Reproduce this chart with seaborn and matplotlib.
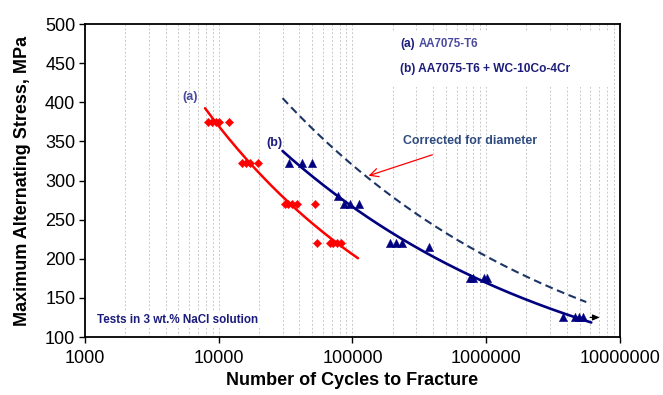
import numpy as np
import pandas as pd
import matplotlib
matplotlib.use("Agg")
import matplotlib.pyplot as plt
import seaborn as sns
from matplotlib.ticker import FixedLocator, FuncFormatter, LogLocator, NullFormatter
from matplotlib.patches import Rectangle

# ---------------- data ----------------
a_cycles = [8300, 8900, 9500, 10000, 12000,
            15000, 16000, 17000, 19500,
            31300, 33100, 35100, 38700, 52700,
            54300, 67900, 71900, 76200, 81600]
a_stress = [375, 375, 375, 375, 375,
            322, 322, 322, 322,
            270, 270, 270, 270, 270,
            220, 220, 220, 220, 220]

b_cycles = [33500, 41700, 49500,
            78300,
            86400, 95800, 112400,
            190700, 210400, 233400,
            373000,
            755000, 792000, 962000, 1019000,
            3770000, 4610000, 4960000, 5260000]
b_stress = [322, 322, 322,
            280,
            270, 270, 270,
            220, 220, 220,
            215,
            175, 175, 175, 175,
            125, 125, 125, 125]

a_fit_range = [7900, 110000]
b_fit_range = [30000, 6100000]
corr_range = [30000, 5600000]
corr_factor = 1.2
runout_cycles = [5700000, 7400000]
runout_stress = 125

x_ticks = [1000, 10000, 100000, 1000000, 10000000]
y_ticks = [100, 150, 200, 250, 300, 350, 400, 450, 500]

# ---------------- style ----------------
sns.set_theme(style="white")
plt.rcParams["font.family"] = ["Liberation Sans", "DejaVu Sans"]

RED = "#ff0000"
NAVY = "#000080"
DASH = "#1c3566"
TXT_NAVY = "#1c1c7c"
TXT_SLATE = "#4a4aa0"

fig = plt.figure(figsize=(6.63, 3.95), dpi=100)
ax = fig.add_axes([0.1282, 0.1468, 0.8069, 0.7924])


def power_fit(x, y, rng):
    coef = np.polyfit(np.log(x), np.log(y), 1)
    xs = np.geomspace(rng[0], rng[1], 200)
    return xs, np.exp(np.polyval(coef, np.log(xs))), coef


ax_x, ax_y, _ = power_fit(a_cycles, a_stress, a_fit_range)
bx_x, bx_y, b_coef = power_fit(b_cycles, b_stress, b_fit_range)
cx = np.geomspace(corr_range[0], corr_range[1], 200)
cy = corr_factor * np.exp(np.polyval(b_coef, np.log(cx)))

fits = pd.DataFrame({"x": ax_x, "y": ax_y})
sns.lineplot(data=fits, x="x", y="y", ax=ax, color=RED, lw=1.8,
             estimator=None, sort=False, zorder=2)
sns.lineplot(x=bx_x, y=bx_y, ax=ax, color=NAVY, lw=1.9,
             estimator=None, sort=False, zorder=2)
sns.lineplot(x=cx, y=cy, ax=ax, color=DASH, lw=1.5,
             linestyle=(0, (3.8, 2.2)), estimator=None, sort=False, zorder=2)

sns.scatterplot(x=a_cycles, y=a_stress, ax=ax, marker="D", s=18,
                color=RED, edgecolor=RED, linewidth=0.3, zorder=3)
sns.scatterplot(x=b_cycles, y=b_stress, ax=ax, marker="^", s=36,
                color=NAVY, edgecolor=NAVY, linewidth=0.3, zorder=3)

# run-out arrow
ax.annotate("", xy=(runout_cycles[1], runout_stress),
            xytext=(runout_cycles[0], runout_stress),
            arrowprops=dict(arrowstyle="-|>,head_length=0.35,head_width=0.15",
                            color="black", lw=0.8), zorder=4)

# ---------------- axes ----------------
ax.set_xscale("log")
ax.set_xlim(1000, 10000000)
ax.set_ylim(100, 500)
ax.xaxis.set_major_locator(FixedLocator(x_ticks))
ax.xaxis.set_major_formatter(FuncFormatter(lambda v, p: f"{int(round(v))}"))
ax.xaxis.set_minor_locator(LogLocator(base=10, subs=np.arange(2, 10)))
ax.xaxis.set_minor_formatter(NullFormatter())
ax.yaxis.set_major_locator(FixedLocator(y_ticks))

ax.grid(True, which="both", axis="x", color="#c8c8c8",
        linestyle=(0, (2, 2)), lw=0.7)
ax.grid(False, axis="y")
ax.set_axisbelow(True)

for s in ax.spines.values():
    s.set_color("black")
    s.set_linewidth(1.3)
    s.set_visible(True)

ax.tick_params(axis="both", which="major", direction="out", length=4,
               width=1, color="black", labelsize=13, labelcolor="black",
               bottom=True, left=True)
ax.tick_params(axis="x", which="major", pad=5)
ax.tick_params(axis="y", which="major", pad=3)
ax.tick_params(axis="x", which="minor", length=0)

ax.set_xlabel("Number of Cycles to Fracture", fontsize=13, fontweight="bold",
              color="black")
ax.set_ylabel("Maximum Alternating Stress, MPa", fontsize=13,
              fontweight="bold", color="black")
ax.xaxis.set_label_coords(0.5, -0.112)
ax.yaxis.set_label_coords(-0.1, 0.5)

# ---------------- annotations ----------------
ax.add_patch(Rectangle((0.576, 0.80), 0.405, 0.174, transform=ax.transAxes,
                       facecolor="white", edgecolor="none", zorder=1))
ax.text(0.589, 0.936, "(a)", transform=ax.transAxes, fontsize=8.6,
        fontweight="bold", color=TXT_NAVY, va="center", ha="left", zorder=5)
ax.text(0.624, 0.936, "AA7075-T6", transform=ax.transAxes, fontsize=8.3,
        fontweight="bold", color=TXT_SLATE, va="center", ha="left", zorder=5)
ax.text(0.589, 0.856, "(b) AA7075-T6 + WC-10Co-4Cr", transform=ax.transAxes,
        fontsize=8.6, fontweight="bold", color=TXT_NAVY, va="center",
        ha="left", zorder=5)

ax.text(0.594, 0.626, "Corrected for diameter", transform=ax.transAxes,
        fontsize=8.9, fontweight="bold", color="#2f4b80", va="center",
        ha="left", zorder=5)
ax.annotate("", xy=(126000, 305), xytext=(414000, 334),
            arrowprops=dict(arrowstyle="->,head_length=0.5,head_width=0.25",
                            color=RED, lw=0.9), zorder=4)

ax.text(0.022, 0.054, "Tests in 3 wt.% NaCl solution", transform=ax.transAxes,
        fontsize=8.4, fontweight="bold", color=TXT_NAVY, va="center",
        ha="left", zorder=5,
        bbox=dict(facecolor="white", edgecolor="none", pad=1.5))

ax.text(6100, 407, "(a)", fontsize=9, fontweight="bold", color=TXT_SLATE,
        ha="center", va="center", zorder=5)
ax.text(26300, 348, "(b)", fontsize=9, fontweight="bold", color=TXT_NAVY,
        ha="center", va="center", zorder=5)

fig.savefig("out.png", dpi=100, facecolor="white")
